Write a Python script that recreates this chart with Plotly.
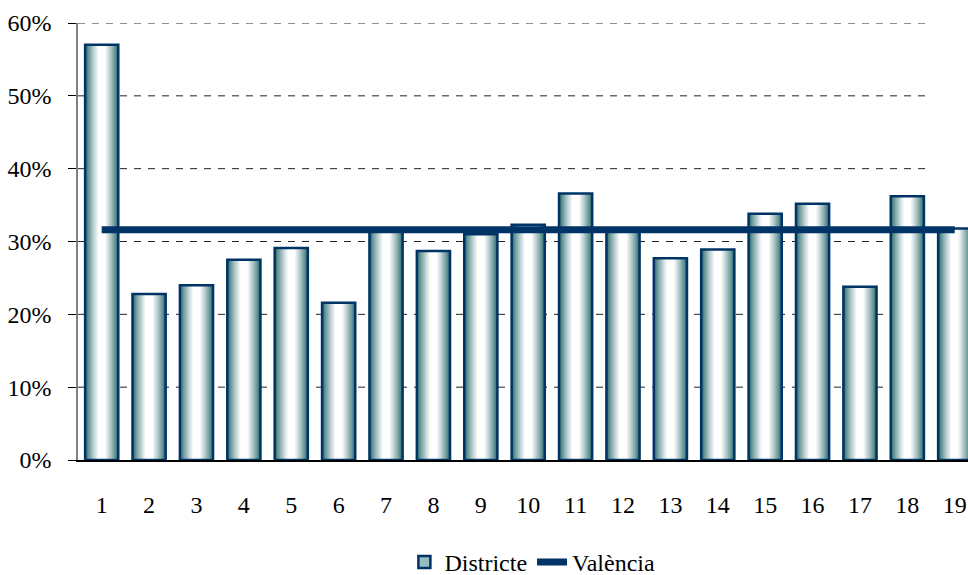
import plotly.graph_objects as go

categories = list(range(1, 20))
districte = [57.0, 22.8, 24.0, 27.5, 29.1, 21.6, 31.5, 28.7, 31.0, 32.3,
             36.6, 31.4, 27.7, 28.9, 33.8, 35.2, 23.8, 36.2, 31.8]
valencia = [31.6] * 19
y_ticks = [0, 10, 20, 30, 40, 50, 60]
y_tick_labels = ["0%", "10%", "20%", "30%", "40%", "50%", "60%"]

FONT = "Times New Roman, Liberation Serif, Tinos, serif"
NAVY = "#003366"

fig = go.Figure()

# gradient bars: overlaid layers from dark teal edge to white centre
edge = (40, 105, 108)
n_layers = 12
w_outer, w_inner = 0.70, 0.16
for i in range(n_layers):
    t = i / (n_layers - 1)
    w = w_outer - (w_outer - w_inner) * t
    tt = t ** 0.8
    c = tuple(int(edge[k] + (255 - edge[k]) * tt) for k in range(3))
    col = "rgb(%d,%d,%d)" % c
    fig.add_trace(go.Bar(
        x=categories, y=districte, width=w,
        marker=dict(color=col, line=dict(width=0)),
        showlegend=False, hoverinfo="skip",
    ))

# outline layer
fig.add_trace(go.Bar(
    x=categories, y=districte, width=w_outer, name="Districte",
    marker=dict(color="rgba(0,0,0,0)", line=dict(color=NAVY, width=2.5)),
    showlegend=False,
))
# legend entry
fig.add_trace(go.Bar(
    x=[None], y=[None], name="Districte",
    marker=dict(color="rgb(150,190,192)", line=dict(color=NAVY, width=2.5)),
    showlegend=True,
))

fig.add_trace(go.Scatter(
    x=categories, y=valencia, mode="lines", name="València",
    line=dict(color=NAVY, width=7),
))

# dashed gridlines ending at category 18's boundary
shapes = []
for v in y_ticks[1:]:
    shapes.append(dict(type="line", xref="x", yref="y", x0=0.5, x1=18.5,
                       y0=v, y1=v, layer="below",
                       line=dict(color="#222222", width=1, dash="7px,7px")))

fig.update_layout(
    width=968, height=575,
    margin=dict(l=78, r=0, t=23, b=115),
    paper_bgcolor="white", plot_bgcolor="white",
    barmode="overlay",
    shapes=shapes,
    font=dict(family=FONT, size=24, color="black"),
    legend=dict(orientation="h", xref="container", yref="container",
                x=0.55, y=0.022, xanchor="center", yanchor="middle",
                font=dict(family=FONT, size=24), traceorder="normal"),
    xaxis=dict(range=[0.5, 19.28], tickmode="array", tickvals=categories,
               ticktext=[str(c) for c in categories], showgrid=False,
               showline=True, linecolor="black", linewidth=1.5,
               ticks="", ticklabelstandoff=22, zeroline=False,
               tickfont=dict(family=FONT, size=24)),
    yaxis=dict(range=[0, 60], tickmode="array", tickvals=y_ticks,
               ticktext=y_tick_labels, showgrid=False, zeroline=False,
               showline=True, linecolor="#808080", linewidth=1.5,
               ticks="outside", ticklen=8, tickcolor="black",
               ticklabelstandoff=12, tickfont=dict(family=FONT, size=24)),
)

fig.write_html("out.html", config={"displayModeBar": False},
               post_script="document.body.style.margin='0';document.body.style.overflow='hidden';")
